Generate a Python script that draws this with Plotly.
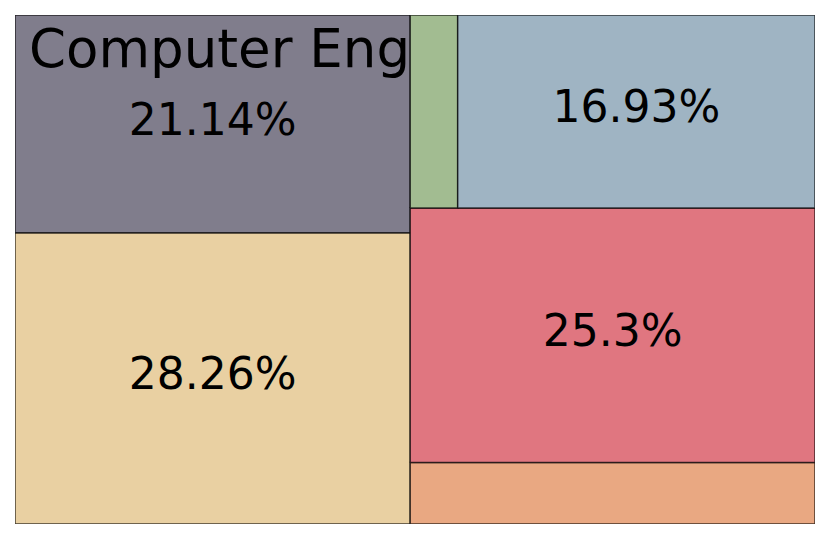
import plotly.graph_objects as go

# Parts du total (%) dans l'ordre du tracé
values = [28.26, 21.14, 6.12, 25.3, 2.25, 16.93]
names = ["", "Computer Eng", "", "", "", ""]
pct_labels = ["28.26%", "21.14%", "", "25.3%", "", "16.93%"]
colors = ["#e9d0a2", "#807d8c", "#e9a882", "#e07680", "#a2bc91", "#9fb4c3"]


# Algorithme squarify (même logique que la lib squarify)
def layoutrow(sizes, x, y, dx, dy):
    width = sum(sizes) / dy
    rects = []
    for s in sizes:
        rects.append((x, y, width, s / width))
        y += s / width
    return rects


def layoutcol(sizes, x, y, dx, dy):
    height = sum(sizes) / dx
    rects = []
    for s in sizes:
        rects.append((x, y, s / height, height))
        x += s / height
    return rects


def layout(sizes, x, y, dx, dy):
    return layoutrow(sizes, x, y, dx, dy) if dx >= dy else layoutcol(sizes, x, y, dx, dy)


def leftover(sizes, x, y, dx, dy):
    if dx >= dy:
        w = sum(sizes) / dy
        return x + w, y, dx - w, dy
    h = sum(sizes) / dx
    return x, y + h, dx, dy - h


def worst_ratio(sizes, x, y, dx, dy):
    return max(max(r[2] / r[3], r[3] / r[2]) for r in layout(sizes, x, y, dx, dy))


def squarify(sizes, x, y, dx, dy):
    if len(sizes) == 0:
        return []
    if len(sizes) == 1:
        return layout(sizes, x, y, dx, dy)
    i = 1
    while i < len(sizes) and worst_ratio(sizes[:i], x, y, dx, dy) >= worst_ratio(sizes[:i + 1], x, y, dx, dy):
        i += 1
    lx, ly, ldx, ldy = leftover(sizes[:i], x, y, dx, dy)
    return layout(sizes[:i], x, y, dx, dy) + squarify(sizes[i:], lx, ly, ldx, ldy)


total = sum(values)
sizes = [v * 100 * 100 / total for v in values]
rects = squarify(sizes, 0, 0, 100, 100)

fig = go.Figure()

for (x, y, dx, dy), c in zip(rects, colors):
    fig.add_trace(go.Scatter(
        x=[x, x + dx, x + dx, x, x],
        y=[y, y, y + dy, y + dy, y],
        fill="toself",
        fillcolor=c,
        mode="lines",
        line=dict(color="rgba(0,0,0,0.7)", width=1.5),
        hoverinfo="skip",
        showlegend=False
    ))

# Pourcentages au centre
fig.add_trace(go.Scatter(
    x=[r[0] + r[2] / 2 for r in rects],
    y=[r[1] + r[3] / 2 for r in rects],
    text=pct_labels,
    mode="text",
    textfont=dict(family="DejaVu Sans", size=44, color="black"),
    hoverinfo="skip",
    showlegend=False
))

# Nom en haut du rectangle
for (x, y, dx, dy), n in zip(rects, names):
    if n:
        fig.add_annotation(
            x=x + dx / 2, y=y + dy, text=n, showarrow=False,
            xanchor="center", yanchor="top", xshift=7, yshift=-1,
            font=dict(family="DejaVu Sans", size=53, color="black")
        )

fig.update_layout(
    width=814, height=524,
    margin=dict(l=7, r=7, t=7, b=8),
    paper_bgcolor="white", plot_bgcolor="white",
    xaxis=dict(range=[0, 100], visible=False, fixedrange=True),
    yaxis=dict(range=[0, 100], visible=False, fixedrange=True),
)

fig.write_html("out.html")
